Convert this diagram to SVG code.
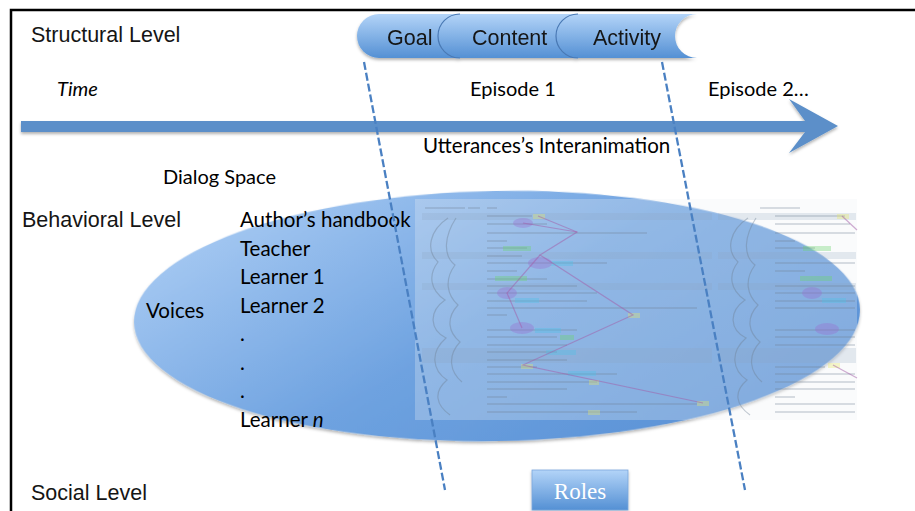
<svg xmlns="http://www.w3.org/2000/svg" width="915" height="511" viewBox="0 0 915 511">
<defs>
  <linearGradient id="gPill" x1="0" y1="0" x2="0" y2="1">
    <stop offset="0" stop-color="#b3d4f8"/>
    <stop offset="1" stop-color="#5490d4"/>
  </linearGradient>
  <linearGradient id="gEll" x1="0" y1="0.2" x2="1" y2="0.8">
    <stop offset="0" stop-color="#a9cbf3"/>
    <stop offset="0.5" stop-color="#6ea2e0"/>
    <stop offset="1" stop-color="#5890d5"/>
  </linearGradient>
  <filter id="sh" x="-10%" y="-10%" width="120%" height="130%">
    <feDropShadow dx="0" dy="2" stdDeviation="1.5" flood-color="#000" flood-opacity="0.3"/>
  </filter>
  <style>
    .arial{font-family:"Liberation Sans",Arial,sans-serif;fill:#151515}
    .cal{font-family:Lato,"Open Sans",sans-serif;fill:#000}
    .lvl{font-size:21.5px}
    .tab{font-size:21.5px}
    .voice{font-size:20.5px}
    .arc{fill:none;stroke:#4a79b4;stroke-width:1.2}
    .dash{fill:none;stroke:#4a80c2;stroke-width:2.3;stroke-dasharray:8 3}
    .band{fill:#8ea4bf;opacity:0.22}
    .txt{fill:#6f7f93;opacity:0.25}
    .pl{fill:none;stroke:#a45ca8;stroke-width:1.2;opacity:0.5}
    .sk{fill:none;stroke:#6d7f94;stroke-width:1.2;opacity:0.4}
  </style>
</defs>
<rect width="915" height="511" fill="#fff"/>
<!-- frame -->
<path d="M11,511 V10 H915" fill="none" stroke="#000" stroke-width="2.5"/>

<g id="level-labels">
  <text class="arial lvl" x="31" y="42">Structural Level</text>
  <text class="arial lvl" x="22" y="227">Behavioral Level</text>
  <text class="arial lvl" x="31" y="500">Social Level</text>
</g>

<g id="structural-tabs" filter="url(#sh)">
  <g id="tab-goal">
    <path d="M379,14 H480 V58 H379 A22,22 0 0 1 379,14 Z" fill="url(#gPill)"/>
    <text class="arial tab" x="387" y="45">Goal</text>
  </g>
  <g id="tab-content">
    <path d="M460,14 H590 V58 H460 A22,22 0 0 1 460,14 Z" fill="url(#gPill)"/>
    <path class="arc" d="M460,58 A22,22 0 0 1 460,14"/>
    <text class="arial tab" x="472" y="45">Content</text>
  </g>
  <g id="tab-activity">
    <path d="M578,14 H697 A22,22 0 0 0 697,58 H578 A22,22 0 0 1 578,14 Z" fill="url(#gPill)"/>
    <path class="arc" d="M578,58 A22,22 0 0 1 578,14"/>
    <text class="arial tab" x="593" y="45">Activity</text>
  </g>
</g>

<g id="time-axis">
  <path d="M21,121 H805 L789,99 L838,126 L789,153 L805,132 H21 Z" fill="#5b8fc9" filter="url(#sh)"/>
  <text class="cal" x="57" y="96" font-size="20px" font-style="italic">Time</text>
  <text class="cal" x="470" y="96" font-size="20px">Episode 1</text>
  <text class="cal" x="708" y="96" font-size="20px">Episode 2…</text>
  <text class="cal" x="423" y="153" font-size="20.5px">Utterances’s Interanimation</text>
</g>

<g id="dialog-space">
  <text class="cal" x="163" y="184" font-size="20px">Dialog Space</text>
  <ellipse cx="497" cy="316" rx="363" ry="125" fill="url(#gEll)" filter="url(#sh)" transform="rotate(-1 497 316)"/>
  <g id="chat-log">
    <rect x="415" y="199" width="298" height="221" fill="#eef1f5" opacity="0.28"/>
    <rect x="713" y="199" width="144" height="221" fill="#eef1f5" opacity="0.28"/>
    <rect class="band" x="422" y="213" width="290" height="7"/>
    <rect class="band" x="422" y="252" width="290" height="7"/>
    <rect class="band" x="422" y="283" width="290" height="7"/>
    <rect class="band" x="422" y="348" width="290" height="15"/>
    <rect class="band" x="718" y="213" width="138" height="7"/>
    <rect class="band" x="718" y="252" width="138" height="7"/>
    <rect class="band" x="718" y="283" width="138" height="7"/>
    <rect class="band" x="718" y="348" width="138" height="15"/>
    <g class="txt">
      <rect x="425" y="207" width="40" height="2"/><rect x="468" y="207" width="12" height="2"/><rect x="487" y="207" width="10" height="2"/>
      <rect x="487" y="215" width="45" height="2"/><rect x="487" y="223" width="60" height="2"/><rect x="487" y="232" width="160" height="2"/>
      <rect x="487" y="240" width="20" height="2"/><rect x="487" y="247" width="40" height="2"/><rect x="487" y="255" width="35" height="2"/>
      <rect x="487" y="262" width="120" height="2"/><rect x="487" y="270" width="30" height="2"/><rect x="487" y="278" width="60" height="2"/>
      <rect x="487" y="285" width="90" height="2"/><rect x="487" y="292" width="110" height="2"/><rect x="487" y="300" width="100" height="2"/>
      <rect x="487" y="307" width="210" height="2"/><rect x="487" y="314" width="20" height="2"/><rect x="487" y="329" width="90" height="2"/>
      <rect x="487" y="336" width="70" height="2"/><rect x="487" y="344" width="80" height="2"/><rect x="487" y="351" width="70" height="2"/>
      <rect x="487" y="359" width="80" height="2"/><rect x="487" y="366" width="50" height="2"/><rect x="487" y="373" width="130" height="2"/>
      <rect x="487" y="381" width="110" height="2"/><rect x="487" y="388" width="80" height="2"/><rect x="487" y="396" width="20" height="2"/>
      <rect x="487" y="403" width="210" height="2"/><rect x="487" y="411" width="150" height="2"/>
    </g>
    <g class="txt">
      <rect x="760" y="207" width="40" height="2"/><rect x="775" y="215" width="70" height="2"/><rect x="775" y="223" width="75" height="2"/>
      <rect x="775" y="232" width="80" height="2"/><rect x="775" y="240" width="20" height="2"/><rect x="775" y="247" width="40" height="2"/>
      <rect x="775" y="262" width="80" height="2"/><rect x="775" y="270" width="30" height="2"/><rect x="775" y="285" width="80" height="2"/>
      <rect x="775" y="292" width="80" height="2"/><rect x="775" y="300" width="80" height="2"/><rect x="775" y="307" width="80" height="2"/>
      <rect x="775" y="329" width="80" height="2"/><rect x="775" y="336" width="80" height="2"/><rect x="775" y="344" width="80" height="2"/>
      <rect x="775" y="366" width="50" height="2"/><rect x="775" y="373" width="80" height="2"/><rect x="775" y="381" width="80" height="2"/>
      <rect x="775" y="388" width="80" height="2"/><rect x="775" y="396" width="20" height="2"/><rect x="775" y="403" width="80" height="2"/>
      <rect x="775" y="411" width="80" height="2"/>
    </g>
    <g opacity="0.35">
      <rect x="533" y="214" width="12" height="5" fill="#e8e86a"/>
      <rect x="503" y="246" width="28" height="5" fill="#6bd66b"/>
      <rect x="548" y="261" width="25" height="5" fill="#4fc3e8"/>
      <rect x="495" y="276" width="32" height="5" fill="#6bd66b"/>
      <rect x="515" y="298" width="24" height="5" fill="#4fc3e8"/>
      <rect x="628" y="313" width="12" height="5" fill="#e8e86a"/>
      <rect x="535" y="328" width="26" height="5" fill="#4fc3e8"/>
      <rect x="560" y="335" width="14" height="5" fill="#6bd66b"/>
      <rect x="546" y="350" width="30" height="5" fill="#4fc3e8"/>
      <rect x="521" y="364" width="12" height="5" fill="#e8e86a"/>
      <rect x="568" y="371" width="28" height="5" fill="#4fc3e8"/>
      <rect x="589" y="380" width="10" height="5" fill="#e8e86a"/>
      <rect x="697" y="401" width="12" height="5" fill="#e8e86a"/>
      <rect x="588" y="410" width="12" height="5" fill="#e8e86a"/>
      <rect x="837" y="214" width="12" height="5" fill="#e8e86a"/>
      <rect x="803" y="246" width="28" height="5" fill="#6bd66b"/>
      <rect x="800" y="276" width="32" height="5" fill="#6bd66b"/>
      <rect x="822" y="298" width="24" height="5" fill="#4fc3e8"/>
      <rect x="828" y="363" width="12" height="5" fill="#e8e86a"/>
      <ellipse cx="540" cy="263" rx="12" ry="6" fill="#9a6bd0"/>
      <ellipse cx="507" cy="293" rx="10" ry="6" fill="#9a6bd0"/>
      <ellipse cx="522" cy="328" rx="12" ry="6" fill="#9a6bd0"/>
      <ellipse cx="523" cy="223" rx="10" ry="5" fill="#9a6bd0"/>
      <ellipse cx="812" cy="293" rx="10" ry="6" fill="#9a6bd0"/>
      <ellipse cx="827" cy="329" rx="12" ry="6" fill="#9a6bd0"/>
    </g>
    <polyline class="pl" points="538,216 577,232 540,255 633,315 523,365 703,403"/>
    <polyline class="pl" points="540,255 507,293 522,328"/>
    <polyline class="pl" points="577,232 523,223"/>
    <polyline class="pl" points="842,216 857,230"/>
    <polyline class="pl" points="833,365 857,378"/>
    <path class="sk" d="M448,218 C430,230 425,250 438,262 C428,275 430,290 445,300 C428,312 430,330 446,338 C430,352 432,370 447,380 C433,392 436,405 450,415"/>
    <path class="sk" d="M456,218 C445,235 442,255 455,265 C444,280 447,295 458,305 C446,318 448,332 460,342 C447,356 450,372 462,382"/>
    <path class="sk" d="M748,218 C730,230 725,250 738,262 C728,275 730,290 745,300 C728,312 730,330 746,338 C730,352 732,370 747,380 C733,392 736,405 750,415"/>
    <path class="sk" d="M756,218 C745,235 742,255 755,265 C744,280 747,295 758,305 C746,318 748,332 760,342 C747,356 750,372 762,382"/>
  </g>
  <g id="voices" class="cal voice">
    <text x="146" y="318">Voices</text>
    <text x="240" y="227">Author’s handbook</text>
    <text x="240" y="256">Teacher</text>
    <text x="240" y="284">Learner 1</text>
    <text x="240" y="313">Learner 2</text>
    <text x="240" y="341">.</text>
    <text x="240" y="370">.</text>
    <text x="240" y="398">.</text>
    <text x="240" y="427">Learner <tspan font-style="italic">n</tspan></text>
  </g>
</g>

<g id="roles">
  <rect x="532" y="470" width="96" height="40" fill="url(#gPill)" stroke="#7aa7dc" stroke-width="0.8" filter="url(#sh)"/>
  <text x="580" y="499" text-anchor="middle" font-family="'Liberation Serif','DejaVu Serif',serif" font-size="23px" fill="#fff">Roles</text>
</g>

<g id="connectors">
  <line class="dash" x1="364" y1="62" x2="445" y2="490"/>
  <line class="dash" x1="662" y1="62" x2="745" y2="490"/>
</g>
</svg>
